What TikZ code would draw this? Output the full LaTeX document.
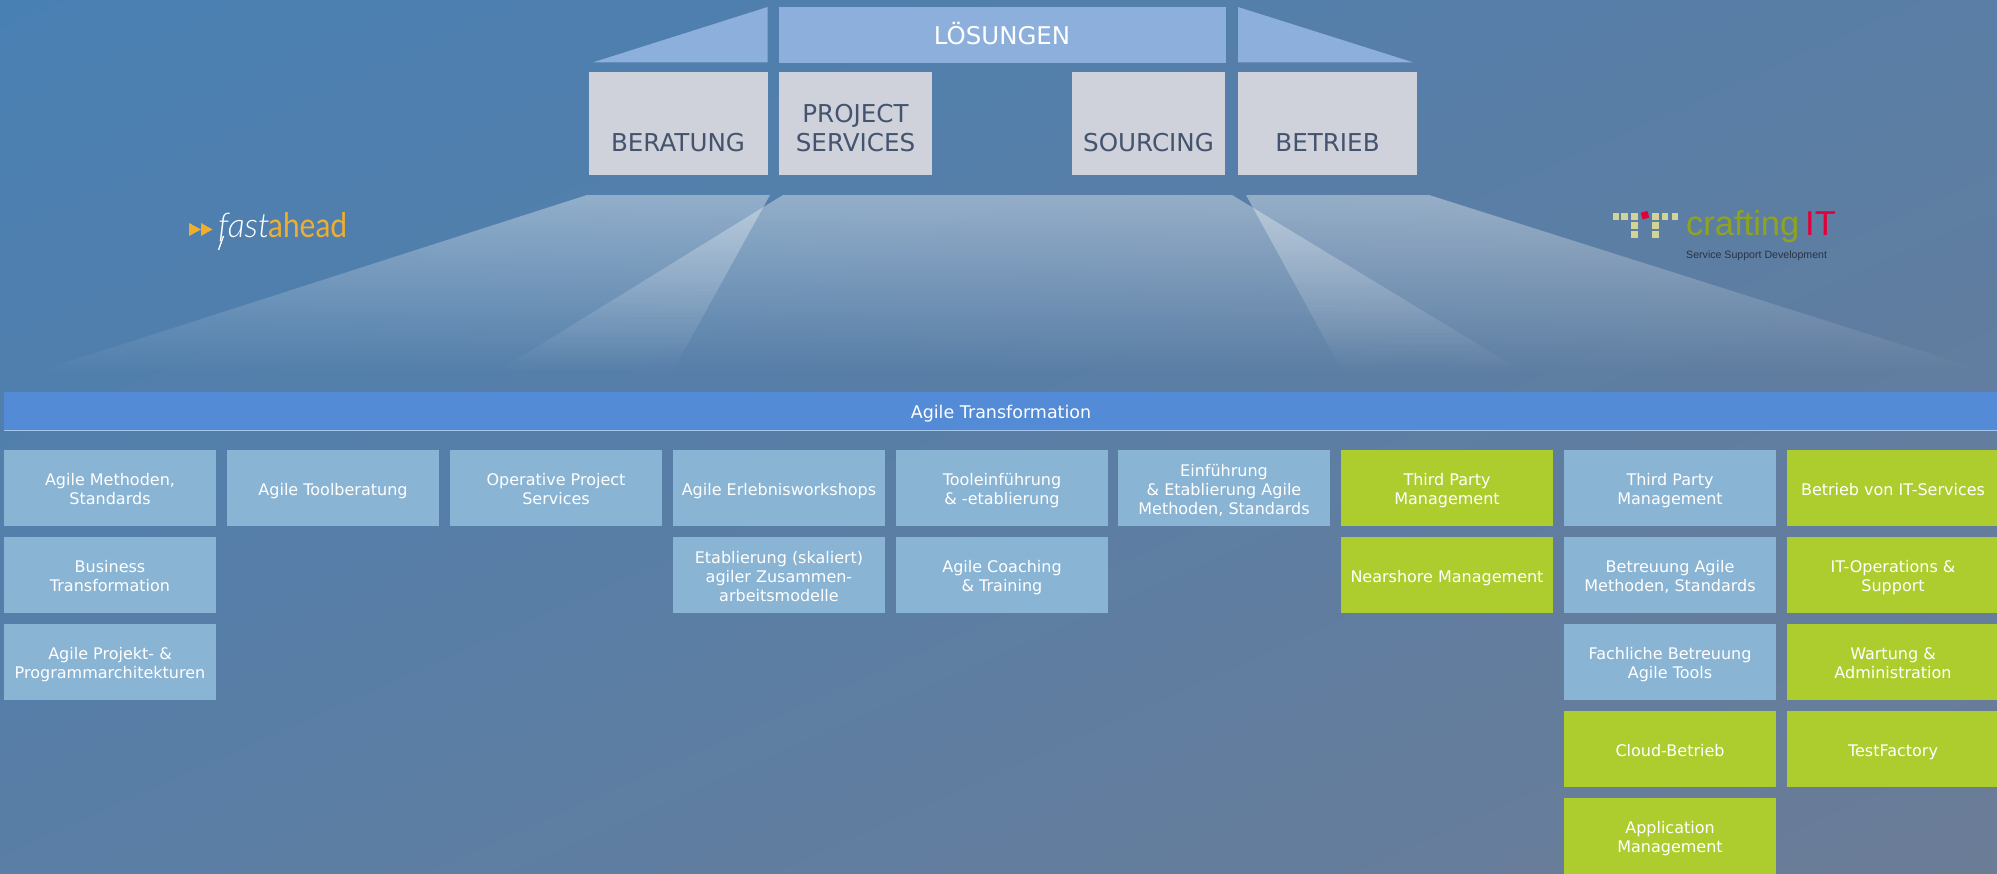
\documentclass[tikz,border=0pt]{standalone}
\usepackage{fontspec}
\setmainfont{DejaVu Sans}
\newfontfamily\logofont{Lato}
\newfontfamily\logoital{Lato Light Italic}
\newfontfamily\arialfont{Liberation Sans}
\definecolor{bgA}{RGB}{72,128,180}
\definecolor{bgB}{RGB}{108,124,150}
\definecolor{blueBox}{RGB}{137,180,212}
\definecolor{greenBox}{RGB}{173,205,46}
\definecolor{roofBlue}{RGB}{140,175,219}
\definecolor{greyBox}{RGB}{207,210,219}
\definecolor{barBlue}{RGB}{83,139,214}
\definecolor{barLine}{RGB}{165,198,235}
\definecolor{darkText}{RGB}{68,84,110}
\definecolor{faOrange}{RGB}{240,174,48}
\definecolor{ctOlive}{RGB}{143,163,30}
\definecolor{ctRed}{RGB}{226,0,58}
\definecolor{ctSquare}{RGB}{210,212,150}
\definecolor{ctDark}{RGB}{40,50,70}
\pgfdeclareverticalshading{bgsh}{100bp}{color(0bp)=(bgB); color(15bp)=(bgB); color(85bp)=(bgA); color(100bp)=(bgA)}
\tikzset{
  cellbase/.style={anchor=north west,inner sep=0pt,outer sep=0pt,minimum width=212pt,minimum height=76pt},
  bluecell/.style={cellbase,fill=blueBox},
  greencell/.style={cellbase,fill=greenBox},
  celltext/.style={inner sep=0pt,text=white,align=center,font=\fontsize{16}{19}\selectfont},
  pillar/.style={anchor=north west,inner sep=0pt,outer sep=0pt,fill=greyBox,minimum height=102.7pt},
  pillartext/.style={anchor=base,inner sep=0pt,text=darkText,font=\fontsize{24.6}{29}\selectfont},
  roofpart/.style={fill=roofBlue},
  tsq/.style={fill=ctSquare}
}
\newcommand\cellbox[5]{%
  \node[#2] (#1) at (#3,#4) {};
  \node[celltext] (#1t) at ([yshift=-3.2pt]#1.center) {\strut #5\strut};}
\newcommand\fanshape[1]{%
  \begin{scope}
    \clip #1;
    \foreach \y in {195,197,...,371}{
      \pgfmathsetmacro\alphaval{.37*(372-\y)/177}
      \fill[white,fill opacity=\alphaval] (-10,\y) rectangle (2040,\y+2);
    }
  \end{scope}}
\begin{document}
\begin{tikzpicture}[x=1pt,y=-1pt]
\useasboundingbox (0,0) rectangle (1997,874);
\shade[shading=bgsh,shading angle=24] (0,0) rectangle (1997,874);
% light fans
\fanshape{(587,195) -- (770,195) -- (665,385) -- (-4,385) -- cycle}
\fanshape{(783,195) -- (1232,195) -- (1545,385) -- (475,385) -- cycle}
\fanshape{(1246,195) -- (1429,195) -- (2029,385) -- (1350,385) -- cycle}
% roof
\fill[roofpart] (592.5,62.5) -- (767.6,7) -- (767.6,62.5) -- cycle;
\fill[roofpart] (1238,7) -- (1413.5,62.5) -- (1238,62.5) -- cycle;
\node[anchor=north west,inner sep=0pt,fill=roofBlue,minimum width=447pt,minimum height=55.5pt] (loesungen) at (779,7) {};
\node[inner sep=0pt,text=white,font=\fontsize{24.4}{29}\selectfont] (loesungenT) at (1002,34) {LÖSUNGEN};
% pillars
\node[pillar,minimum width=179pt] (beratung) at (589,72) {};
\node[pillartext] (beratungT) at (678,151.5) {BERATUNG};
\node[pillar,minimum width=153pt] (project) at (779,72) {};
\node[pillartext] (projectT) at (855.5,151.5) {SERVICES};
\node[pillartext] (projectU) at (855.5,122.5) {PROJECT};
\node[pillar,minimum width=153pt] (sourcing) at (1072,72) {};
\node[pillartext] (sourcingT) at (1148.5,151.5) {SOURCING};
\node[pillar,minimum width=179pt] (betrieb) at (1238,72) {};
\node[pillartext] (betriebT) at (1327.5,151.5) {BETRIEB};
% fastahead logo
\fill[faOrange] (189,223) -- (201,229.5) -- (189,236) -- cycle;
\fill[faOrange] (201,223) -- (212.5,229.5) -- (201,236) -- cycle;
\node[anchor=base west,inner sep=0pt,text=white,font=\logoital\fontsize{34}{34}\selectfont] (fast) at (218,238) {fast};
\node[anchor=base west,inner sep=0pt,text=faOrange,xscale=.88,transform shape,font=\logofont\fontsize{34}{34}\selectfont] (ahead) at (268,238) {ahead};
\draw[white,line width=1.3pt] (223.5,236) -- (218.5,250);
% craftingIT logo
\foreach \x in {1612.5,1621,1631,1652,1661.5,1671.5}
  \fill[tsq] (\x,213.3) rectangle +(6.7,6.7);
\foreach \y in {222,231}
  \foreach \x in {1631,1652}
    \fill[tsq] (\x,\y) rectangle +(6.7,6.7);
\fill[ctRed,rotate around={15:(1645,215)}] (1641.5,211.7) rectangle +(6.9,6.9);
\node[anchor=base west,inner sep=0pt,text=ctOlive,font=\arialfont\fontsize{34.5}{34.5}\selectfont] (crafting) at (1686,236) {crafting};
\node[anchor=base west,inner sep=0pt,text=ctRed,font=\arialfont\fontsize{34.5}{34.5}\selectfont] (it) at (1805,236) {IT};
\node[anchor=base west,inner sep=0pt,text=ctDark,font=\arialfont\fontsize{10.6}{12}\selectfont] (ssd) at (1686,258.5) {Service Support Development};
% bar
\node[anchor=north west,inner sep=0pt,fill=barBlue,minimum width=1993pt,minimum height=37.5pt] (bar) at (4,392) {};
\node[text=white,font=\fontsize{17.5}{20}\selectfont,inner sep=0pt] (barT) at (1001,413.5) {Agile Transformation};
\fill[barLine] (4,429.5) rectangle (1997,431);
% columns
\cellbox{a1}{bluecell}{4}{450}{Agile Methoden,\\Standards}
\cellbox{a2}{bluecell}{4}{537}{Business\\Transformation}
\cellbox{a3}{bluecell}{4}{624}{Agile Projekt- \&\\Programmarchitekturen}
\cellbox{b1}{bluecell}{227}{450}{Agile Toolberatung}
\cellbox{c1}{bluecell}{450}{450}{Operative Project\\Services}
\cellbox{d1}{bluecell}{673}{450}{Agile Erlebnisworkshops}
\cellbox{d2}{bluecell}{673}{537}{Etablierung (skaliert)\\agiler Zusammen-\\arbeitsmodelle}
\cellbox{e1}{bluecell}{896}{450}{Tooleinführung\\\& -etablierung}
\cellbox{e2}{bluecell}{896}{537}{Agile Coaching\\\& Training}
\cellbox{f1}{bluecell}{1118}{450}{Einführung\\\& Etablierung Agile\\Methoden, Standards}
\cellbox{g1}{greencell}{1341}{450}{Third Party\\Management}
\cellbox{g2}{greencell}{1341}{537}{Nearshore Management}
\cellbox{h1}{bluecell}{1564}{450}{Third Party\\Management}
\cellbox{h2}{bluecell}{1564}{537}{Betreuung Agile\\Methoden, Standards}
\cellbox{h3}{bluecell}{1564}{624}{Fachliche Betreuung\\Agile Tools}
\cellbox{h4}{greencell}{1564}{711}{Cloud-Betrieb}
\cellbox{h5}{greencell}{1564}{798}{Application\\Management}
\cellbox{i1}{greencell}{1787}{450}{Betrieb von IT-Services}
\cellbox{i2}{greencell}{1787}{537}{IT-Operations \&\\Support}
\cellbox{i3}{greencell}{1787}{624}{Wartung \&\\Administration}
\cellbox{i4}{greencell}{1787}{711}{TestFactory}
\end{tikzpicture}
\end{document}
